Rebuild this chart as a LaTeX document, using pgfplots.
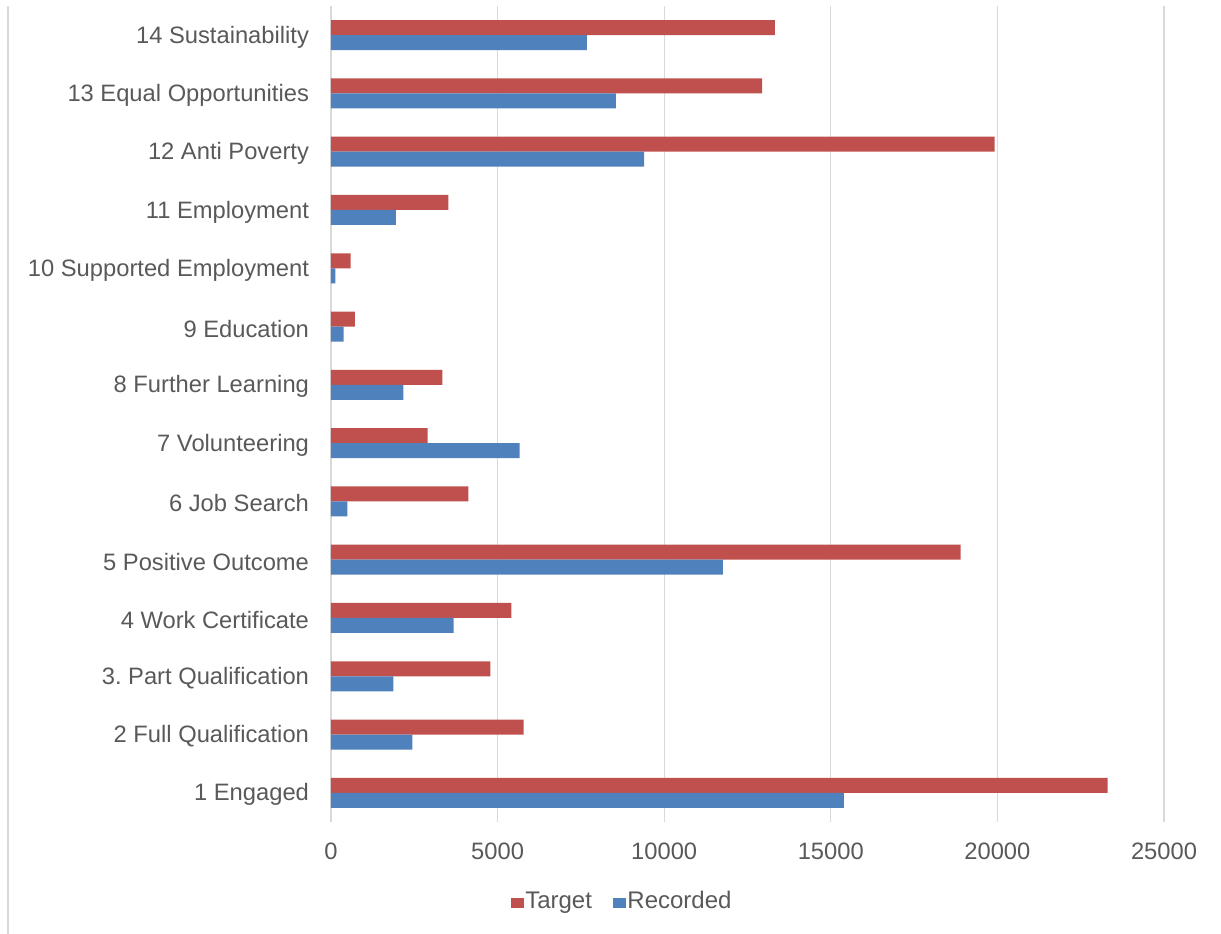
\documentclass[border=0pt]{standalone}
\usepackage{pgfplots}
\pgfplotsset{compat=1.18}
\usepackage{fontspec}
\setmainfont{Liberation Sans}
\definecolor{tgt}{HTML}{C0504D}
\definecolor{rec}{HTML}{4F81BD}
\definecolor{txt}{HTML}{595959}
\definecolor{grd}{HTML}{D9D9D9}
\begin{document}
\begin{tikzpicture}
\path[use as bounding box] (-248.25pt,-84pt) rectangle (667.5pt,616.5pt);
\draw[grd, line width=0.9pt] (-242.25pt,-84pt) -- (-242.25pt,612pt);
\begin{axis}[
  at={(0,0)}, anchor=south west,
  scale only axis,
  width=624.75pt, height=612pt,
  xbar, bar width=11.25pt,
  xmin=0, xmax=25000,
  ymin=0.5, ymax=14.5,
  xtick={0,5000,10000,15000,20000,25000},
  ytick={1,2,3,4,5,6,7,8,9,10,11,12,13,14},
  yticklabels={1 Engaged, 2 Full Qualification, 3.\ Part Qualification, 4 Work Certificate, 5 Positive Outcome, 6 Job Search, 7 Volunteering, 8 Further Learning, 9 Education, 10 Supported Employment, 11 Employment, 12 Anti Poverty, 13 Equal Opportunities, 14 Sustainability},
  scaled x ticks=false,
  /pgf/number format/1000 sep={},
  /pgf/number format/assume math mode=true,
  axis line style={draw=none},
  major tick length=0pt,
  xmajorgrids, grid style={grd, line width=0.9pt},
  tick label style={font=\fontsize{17.8pt}{21pt}\selectfont, text=txt},
  xticklabel style={yshift=-12.5pt},
  yticklabel style={xshift=-13pt, yshift=-1.5pt},
  legend style={at={(0.349,-0.097)}, anchor=center, draw=none, fill=none,
    legend columns=2, font=\fontsize{18pt}{21pt}\selectfont, text=txt,
    /tikz/every even column/.append style={column sep=15pt},
    nodes={inner sep=0.8pt}},
  legend image code/.code={\fill[#1] (0pt,-5.5pt) rectangle (10pt,2pt);},
]
\addplot[fill=tgt, draw=none, bar shift=5.625pt] coordinates {
(23310,1) (5780,2) (4780,3) (5410,4) (18900,5) (4120,6) (2900,7) (3340,8) (720,9) (590,10) (3520,11) (19920,12) (12940,13) (13320,14)};
\addlegendentry{Target}
\addplot[fill=rec, draw=none, bar shift=-5.625pt] coordinates {
(15390,1) (2440,2) (1870,3) (3680,4) (11760,5) (490,6) (5660,7) (2170,8) (380,9) (130,10) (1950,11) (9400,12) (8550,13) (7680,14)};
\addlegendentry{Recorded}
\end{axis}
\end{tikzpicture}
\end{document}
